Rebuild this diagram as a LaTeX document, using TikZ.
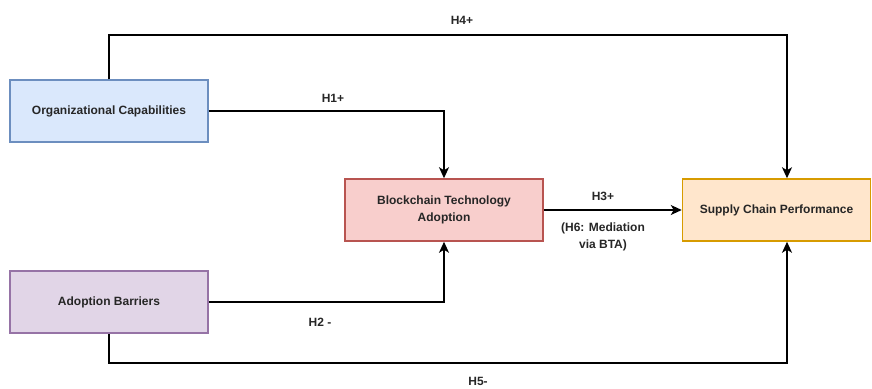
\documentclass[tikz,border=0pt]{standalone}
\usepackage{fontspec}
\setmainfont{Liberation Sans}
\usetikzlibrary{arrows.meta}
\definecolor{blueFill}{HTML}{DAE8FC}\definecolor{blueLine}{HTML}{6C8EBF}
\definecolor{purpleFill}{HTML}{E1D5E7}\definecolor{purpleLine}{HTML}{9673A6}
\definecolor{redFill}{HTML}{F8CECC}\definecolor{redLine}{HTML}{B85450}
\definecolor{orangeFill}{HTML}{FFE6CC}\definecolor{orangeLine}{HTML}{D79B00}
\begin{document}
\begin{tikzpicture}[x=1pt,y=-1pt,
  txt/.style={font=\fontsize{12}{17.5}\selectfont\bfseries, text=black!85},
  box/.style={draw, line width=1.5pt, minimum width=198pt, minimum height=62pt,
    inner sep=0pt, align=center, txt},
  link/.style={line width=1.5pt, -{Stealth[length=11pt,width=10pt,inset=3pt]}},
  lbl/.style={txt, align=center, inner sep=0pt}]
\useasboundingbox (0,0) rectangle (872,388);
\node[box, fill=blueFill, draw=blueLine] (oc) at (109,111) {Organizational Capabilities};
\node[box, fill=purpleFill, draw=purpleLine] (ab) at (109,302) {Adoption Barriers};
\node[box, fill=redFill, draw=redLine] (bta) at (444,210) {Blockchain Technology\\Adoption};
\node[box, fill=orangeFill, draw=orangeLine, minimum width=188pt] (scp) at (776.5,210) {Supply Chain Performance};
% hypothesised paths
\draw[link] (oc.east) -| (bta.north);
\draw[link] (ab.east) -| (bta.south);
\draw[link] (bta.east) -- (scp.west);
\draw[link] (oc.north) |- (787,35) -- ([xshift=10.5pt]scp.north);
\draw[link] (ab.south) |- (787,363) -- ([xshift=10.5pt]scp.south);
% path labels
\node[lbl] (h1) at (333,98) {H1+};
\node[lbl] (h2) at (320,322) {H2 -};
\node[lbl] (h3) at (603,196) {H3+};
\node[lbl] (h6) at (603,237) {(H6: Mediation\\via BTA)};
\node[lbl] (h4) at (462,20) {H4+};
\node[lbl] (h5) at (478,381) {H5-};
\end{tikzpicture}
\end{document}
